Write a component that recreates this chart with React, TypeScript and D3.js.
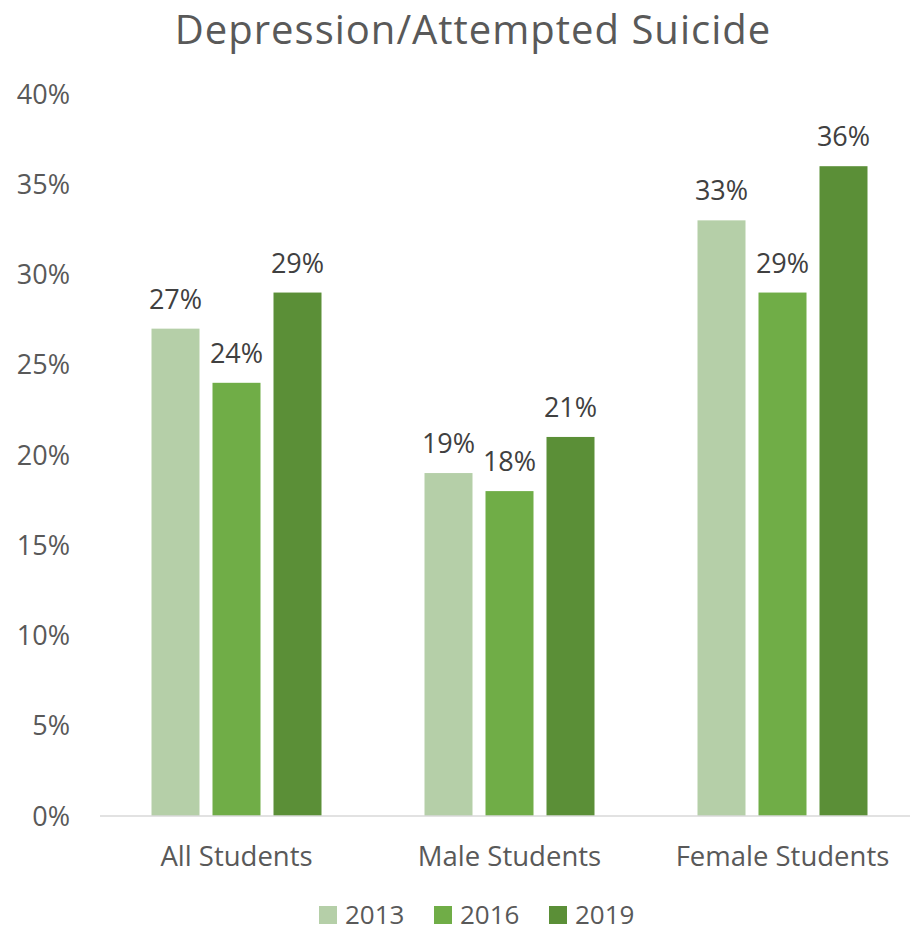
import { scaleBand, scaleLinear } from 'd3';

const categories = ['All Students', 'Male Students', 'Female Students'];
const years = ['2013', '2016', '2019'];
const values2013 = [27, 19, 33];
const values2016 = [24, 18, 29];
const values2019 = [29, 21, 36];
const yTicks = [0, 5, 10, 15, 20, 25, 30, 35, 40];
const colors = ['#b5cfa8', '#70ad47', '#5b8f37'];

const seriesValues = [values2013, values2016, values2019];

const W = 910;
const H = 933;
const FONT = '"Open Sans", sans-serif';

const App = () => {
  const x = scaleBand<string>().domain(categories).range([100, 919]).padding(0);
  const groupWidth = 170;
  const xInner = scaleBand<string>()
    .domain(years)
    .range([0, groupWidth])
    .paddingInner(13 / 61)
    .paddingOuter(0);
  const y = scaleLinear().domain([0, 40]).range([816, 94]);

  return (
    <svg
      width={W}
      height={H}
      style={{ display: 'block', position: 'absolute', left: 0, top: 0 }}
    >
      <rect width={W} height={H} fill="#ffffff" />
      <text
        x={473}
        y={44}
        textAnchor="middle"
        fontFamily={FONT}
        fontSize={40}
        letterSpacing={1}
        fill="#595959"
      >
        Depression/Attempted Suicide
      </text>

      {/* y axis tick labels */}
      {yTicks.map((t) => (
        <text
          key={t}
          x={70}
          y={y(t)}
          dy="0.36em"
          textAnchor="end"
          fontFamily={FONT}
          fontSize={27}
          fill="#595959"
        >
          {t}%
        </text>
      ))}

      {/* bars */}
      {categories.map((c, ci) => {
        const gx = (x(c) ?? 0) + (x.bandwidth() - groupWidth) / 2;
        return years.map((yr, si) => {
          const v = seriesValues[si][ci];
          const bx = gx + (xInner(yr) ?? 0);
          return (
            <g key={c + yr}>
              <rect
                x={bx}
                y={y(v)}
                width={xInner.bandwidth()}
                height={y(0) - y(v)}
                fill={colors[si]}
              />
              <text
                x={bx + xInner.bandwidth() / 2}
                y={y(v) - 20}
                textAnchor="middle"
                fontFamily={FONT}
                fontSize={27}
                fill="#404040"
              >
                {v}%
              </text>
            </g>
          );
        });
      })}

      {/* x axis line */}
      <line x1={100} x2={W} y1={y(0)} y2={y(0)} stroke="#d9d9d9" strokeWidth={1.5} />

      {/* category labels */}
      {categories.map((c) => (
        <text
          key={c}
          x={(x(c) ?? 0) + x.bandwidth() / 2}
          y={866}
          textAnchor="middle"
          fontFamily={FONT}
          fontSize={27.5}
          fill="#595959"
        >
          {c}
        </text>
      ))}

      {/* legend */}
      {years.map((yr, i) => (
        <g key={yr} transform={`translate(${319 + i * 115}, 0)`}>
          <rect x={0} y={906} width={18} height={18} fill={colors[i]} />
          <text x={26} y={924} fontFamily={FONT} fontSize={26} fill="#595959">
            {yr}
          </text>
        </g>
      ))}
    </svg>
  );
};

export default App;
